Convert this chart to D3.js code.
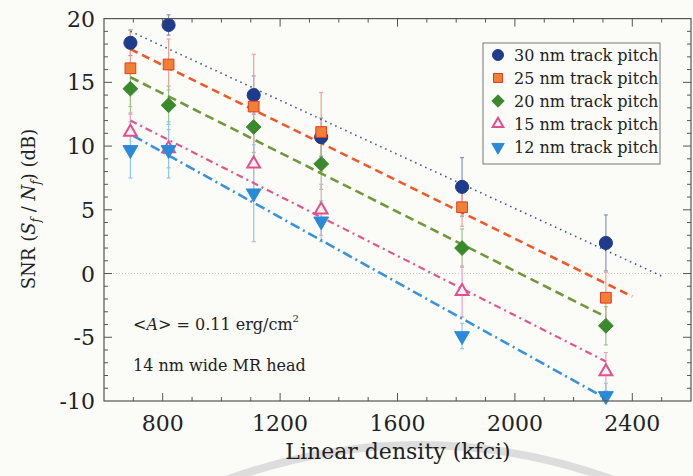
<!DOCTYPE html>
<html>
<head>
<meta charset="utf-8">
<script src="https://cdn.jsdelivr.net/npm/d3@7"></script>
<style>
  body { margin: 0; background: #fbfbf8; }
  svg { display: block; }
  svg text { font-family: "DejaVu Serif", "Liberation Serif", "Times New Roman", serif; fill: #222; }
</style>
</head>
<body>
<svg id="chart"></svg>
<script>
/* SNR vs linear density */

var densities = [690, 820, 1110, 1340, 1820, 2310];
var seriesNames = ["30 nm track pitch", "25 nm track pitch", "20 nm track pitch", "15 nm track pitch", "12 nm track pitch"];

var snr30 = [18.1, 19.5, 14.0, 10.7, 6.8, 2.4];
var snr25 = [16.1, 16.4, 13.1, 11.1, 5.2, -1.9];
var snr20 = [14.5, 13.2, 11.5, 8.6, 2.0, -4.1];
var snr15 = [11.1, 9.8, 8.6, 5.0, -1.4, -7.7];
var snr12 = [9.7, 9.7, 6.3, 4.1, -4.9, -9.6];

var err30 = [1.0, 0.8, 1.5, 1.5, 2.3, 2.2];
var err25 = [3.0, 2.0, 4.1, 3.1, 1.5, 2.0];
var err20 = [2.0, 1.5, 2.0, 2.0, 1.5, 1.5];
var err15 = [1.5, 1.5, 2.5, 2.0, 2.0, 1.5];
var err12 = [2.2, 2.2, 3.8, 1.6, 1.0, 1.0];

// linear fits: [start density, start snr, end density, end snr]
var fit30 = [690, 19.0, 2500, -0.2];
var fit25 = [690, 17.6, 2400, -1.8];
var fit20 = [690, 15.4, 2310, -3.4];
var fit15 = [690, 12.0, 2310, -6.9];
var fit12 = [700, 10.8, 2310, -9.8];

var xTicks = [800, 1200, 1600, 2000, 2400];
var yTicks = [-10, -5, 0, 5, 10, 15, 20];

var W = 693, H = 476;
var svg = d3.select("#chart").attr("width", W).attr("height", H);

var x = d3.scaleLinear().domain([600, 2600]).range([104, 691]);
var y = d3.scaleLinear().domain([-10, 20]).range([401, 18.6]);

var diamond = {
  draw: function (ctx, size) {
    var r = Math.sqrt(size / 2);
    ctx.moveTo(0, -r); ctx.lineTo(r, 0); ctx.lineTo(0, r); ctx.lineTo(-r, 0); ctx.closePath();
  }
};

var series = [
  { name: seriesNames[0], v: snr30, e: err30, fit: fit30, sym: d3.symbolCircle, size: 135, fill: "#1e3b8c", stroke: "#1e3b8c", line: "#3d4f9e", dash: "1.5,4", lw: 1.6, bar: "#8a93c0" },
  { name: seriesNames[1], v: snr25, e: err25, fit: fit25, sym: d3.symbolSquare, size: 115, fill: "#ef8035", stroke: "#e23a22", line: "#f0582a", dash: "8,5", lw: 2.6, bar: "#f2a090" },
  { name: seriesNames[2], v: snr20, e: err20, fit: fit20, sym: diamond, size: 110, fill: "#3a8a2c", stroke: "#3a8a2c", line: "#6f9a3c", dash: "9,5", lw: 2.6, bar: "#9cc48e" },
  { name: seriesNames[3], v: snr15, e: err15, fit: fit15, sym: d3.symbolTriangle, size: 70, fill: "#fdf0f4", stroke: "#e0508a", line: "#e2568c", dash: "7,4,2,4", lw: 2.2, bar: "#eea0c0", hollow: true },
  { name: seriesNames[4], v: snr12, e: err12, fit: fit12, sym: d3.symbolTriangle, size: 95, fill: "#2a8ada", stroke: "#2a8ada", line: "#3a92d8", dash: "10,4,2,4", lw: 2.6, bar: "#92c6ea", flip: true }
];

// faint watermark arc
svg.append("path")
  .attr("d", "M 200 490 Q 420 400 640 490")
  .attr("fill", "none")
  .attr("stroke", "#d6d6d6")
  .attr("stroke-width", 8)
  .attr("opacity", 0.8);

var g = svg.append("g");

// zero line
g.append("line")
  .attr("x1", x(600)).attr("x2", x(2600))
  .attr("y1", y(0)).attr("y2", y(0))
  .attr("stroke", "#c8c8c8").attr("stroke-width", 1)
  .attr("stroke-dasharray", "1,2");

// error bars
series.forEach(function (s) {
  var eb = g.append("g");
  densities.forEach(function (d, i) {
    var lo = Math.max(s.v[i] - s.e[i], -10), hi = s.v[i] + s.e[i];
    eb.append("line")
      .attr("x1", x(d)).attr("x2", x(d))
      .attr("y1", y(lo)).attr("y2", y(hi))
      .attr("stroke", s.bar).attr("stroke-width", 1.2);
    [lo, hi].forEach(function (t) {
      if (t <= -10) return;
      eb.append("line")
        .attr("x1", x(d) - 2).attr("x2", x(d) + 2)
        .attr("y1", y(t)).attr("y2", y(t))
        .attr("stroke", s.bar).attr("stroke-width", 1.2);
    });
  });
});

// fit lines
series.forEach(function (s) {
  g.append("line")
    .attr("x1", x(s.fit[0])).attr("y1", y(s.fit[1]))
    .attr("x2", x(s.fit[2])).attr("y2", y(s.fit[3]))
    .attr("stroke", s.line)
    .attr("stroke-width", s.lw)
    .attr("stroke-dasharray", s.dash);
});

// markers
series.forEach(function (s) {
  var sym = d3.symbol().type(s.sym).size(s.size);
  g.selectAll(null)
    .data(densities)
    .enter()
    .append("path")
    .attr("d", sym)
    .attr("transform", function (d, i) {
      return "translate(" + x(d) + "," + y(s.v[i]) + ")" + (s.flip ? " rotate(180)" : "");
    })
    .attr("fill", s.fill)
    .attr("stroke", s.stroke)
    .attr("stroke-width", s.hollow ? 2 : 1);
});

// frame and ticks
var axisColor = "#555";
g.append("rect")
  .attr("x", x(600)).attr("y", y(20))
  .attr("width", x(2600) - x(600)).attr("height", y(-10) - y(20))
  .attr("fill", "none").attr("stroke", axisColor).attr("stroke-width", 1.2);

d3.range(700, 2600, 100).forEach(function (v) {
  var len = v % 400 === 0 ? 8 : 4;
  g.append("line").attr("x1", x(v)).attr("x2", x(v)).attr("y1", y(-10)).attr("y2", y(-10) - len).attr("stroke", axisColor);
  g.append("line").attr("x1", x(v)).attr("x2", x(v)).attr("y1", y(20)).attr("y2", y(20) + len).attr("stroke", axisColor);
});
d3.range(-9, 20, 1).forEach(function (v) {
  var len = v % 5 === 0 ? 8 : 4;
  g.append("line").attr("x1", x(600)).attr("x2", x(600) + len).attr("y1", y(v)).attr("y2", y(v)).attr("stroke", axisColor);
  g.append("line").attr("x1", x(2600)).attr("x2", x(2600) - len).attr("y1", y(v)).attr("y2", y(v)).attr("stroke", axisColor);
});

// tick labels
g.selectAll(".xl")
  .data(xTicks)
  .enter()
  .append("text")
  .attr("x", function (d) { return x(d); })
  .attr("y", 431)
  .attr("text-anchor", "middle")
  .style("font-size", "22px")
  .text(function (d) { return d; });

g.selectAll(".yl")
  .data(yTicks)
  .enter()
  .append("text")
  .attr("x", 95)
  .attr("y", function (d) { return y(d) + 8; })
  .attr("text-anchor", "end")
  .style("font-size", "22px")
  .text(function (d) { return d; });

// axis titles
svg.append("text")
  .attr("x", 398)
  .attr("y", 459)
  .attr("text-anchor", "middle")
  .style("font-size", "22px")
  .text("Linear density (kfci)");

var yt = svg.append("text")
  .attr("transform", "translate(35,209) rotate(-90)")
  .attr("text-anchor", "middle")
  .style("font-size", "18px");
yt.append("tspan").text("SNR (");
yt.append("tspan").style("font-style", "italic").text("S");
yt.append("tspan").style("font-style", "italic").style("font-size", "12px").attr("dy", 5).text("f");
yt.append("tspan").attr("dy", -5).text(" / ");
yt.append("tspan").style("font-style", "italic").text("N");
yt.append("tspan").style("font-style", "italic").style("font-size", "12px").attr("dy", 5).text("f");
yt.append("tspan").attr("dy", -5).text(") (dB)");

// annotations
var a1 = svg.append("text").attr("x", 133).attr("y", 330).style("font-size", "16px");
a1.append("tspan").text("<");
a1.append("tspan").style("font-style", "italic").text("A");
a1.append("tspan").text("> = 0.11 erg/cm");
a1.append("tspan").attr("dy", -8).style("font-size", "10px").text("2");

svg.append("text").attr("x", 133).attr("y", 371).style("font-size", "16px").text("14 nm wide MR head");

// legend
var lg = svg.append("g");
lg.append("rect")
  .attr("x", 483).attr("y", 43).attr("width", 177).attr("height", 121)
  .attr("fill", "#fbfbf8").attr("stroke", "#777").attr("stroke-width", 1);

series.forEach(function (s, i) {
  var cy = 55 + i * 23;
  lg.append("path")
    .attr("d", d3.symbol().type(s.sym).size(s.size * 0.7))
    .attr("transform", "translate(498," + cy + ")" + (s.flip ? " rotate(180)" : ""))
    .attr("fill", s.fill)
    .attr("stroke", s.stroke)
    .attr("stroke-width", s.hollow ? 2 : 1);
  lg.append("text")
    .attr("x", 514)
    .attr("y", cy + 6)
    .style("font-size", "16px")
    .text(s.name);
});
</script>
</body>
</html>
